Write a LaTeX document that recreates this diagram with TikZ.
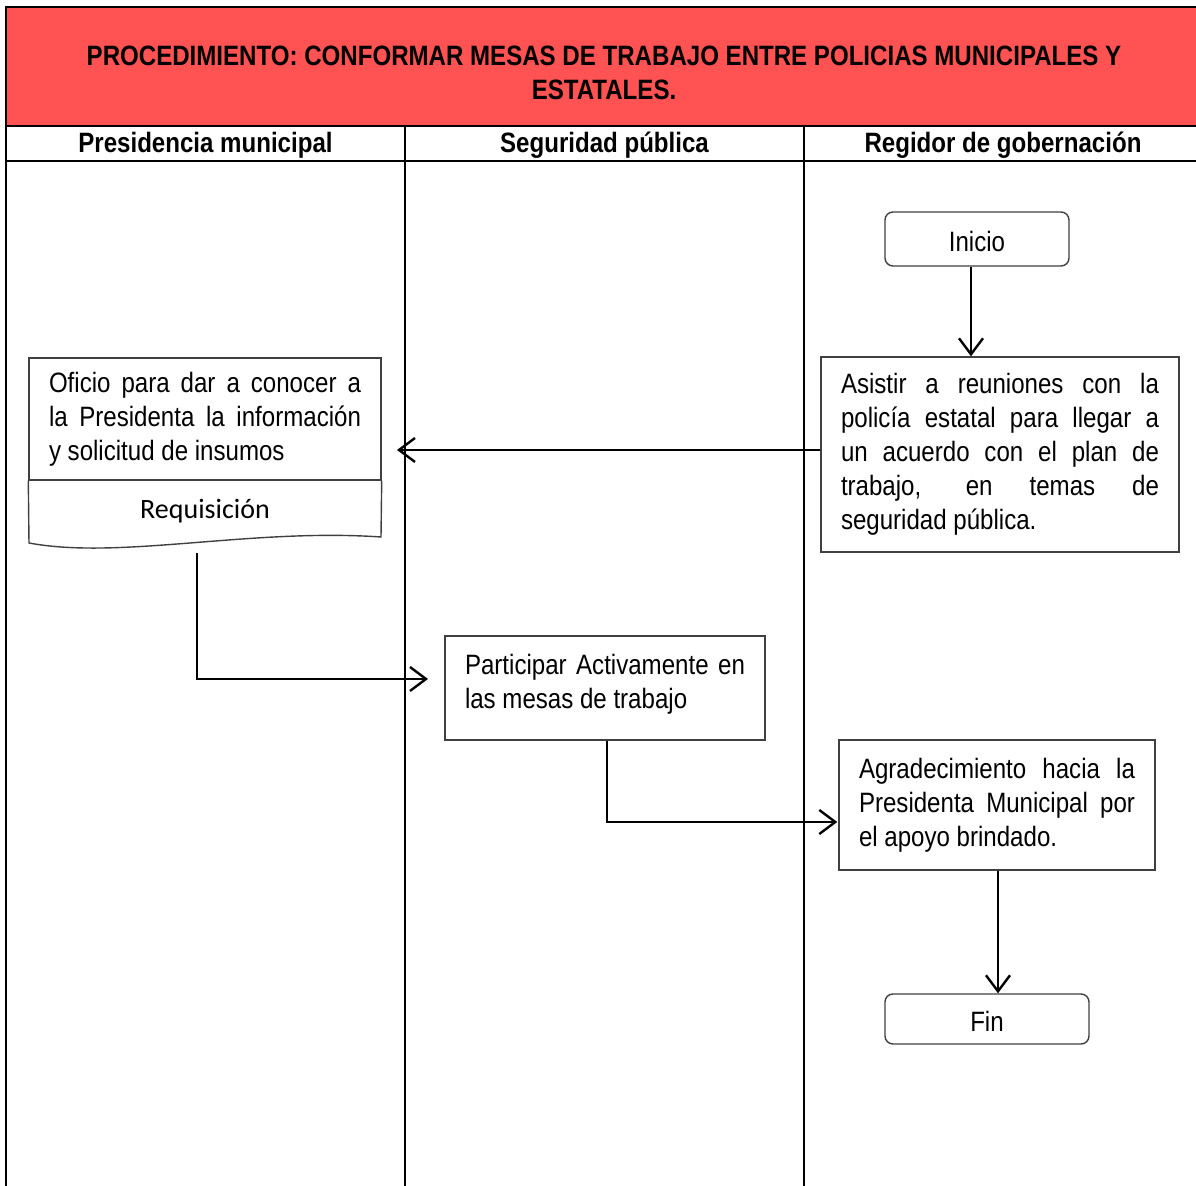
\documentclass[tikz,border=0pt]{standalone}
\usepackage{fontspec}
\setmainfont{Liberation Sans}[FakeStretch=0.86]
\newfontfamily\calibri{Carlito}
\usetikzlibrary{arrows.meta}
\definecolor{headred}{RGB}{255,82,82}
\begin{document}
\begin{tikzpicture}[x=0.5pt,y=-0.5pt,
  lane/.style={line width=1pt},
  boxtext/.style={font=\fontsize{14}{17}\selectfont},
  procbox/.style={boxtext, draw=black!75, line width=0.7pt, rectangle, inner sep=0pt, align=justify},
  termbox/.style={boxtext, draw=black!75, line width=0.7pt, rounded corners=4pt, inner sep=0pt,
    text height=12.5pt, text depth=0pt},
  flow/.style={line width=1.2pt, -{Straight Barb[length=8pt,width=12pt,line width=1.2pt]}},
  lanehead/.style={font=\bfseries\fontsize{14}{17}\selectfont},
]
\useasboundingbox (0,0) rectangle (1196,1186);

% frame, title band and swimlanes
\fill[headred] (6,7) rectangle (1196,126);
\draw[lane] (1196,7) -- (6,7) -- (6,1186);
\draw[lane] (6,126) -- (1196,126);
\draw[lane] (6,161) -- (1196,161);
\draw[lane] (405,126) -- (405,1186);
\draw[lane] (804,126) -- (804,1186);

\node[align=center, font=\bfseries\fontsize{14}{17}\selectfont] (title) at (604,73)
  {PROCEDIMIENTO: CONFORMAR MESAS DE TRABAJO ENTRE POLICIAS MUNICIPALES Y\\ESTATALES.};

\node[lanehead] (lane1) at (205.5,145.5) {Presidencia municipal};
\node[lanehead] (lane2) at (604.5,145.5) {Seguridad pública};
\node[lanehead] (lane3) at (1003,145.5) {Regidor de gobernación};

% start / end
\node[termbox, minimum width=92pt, minimum height=27pt] (inicio) at (977,239) {Inicio};
\node[termbox, minimum width=102pt, minimum height=25pt] (fin) at (987,1019) {Fin};

% activities
\node[procbox, minimum width=179pt, minimum height=97.5pt, text width=159pt] (asistir) at (1000,454.5)
  {Asistir a reuniones con la\linebreak policía estatal para llegar a\linebreak un acuerdo con el plan de\linebreak trabajo, en temas de\linebreak seguridad pública.};

\node[procbox, minimum width=176pt, minimum height=61pt, text width=156pt] (oficio) at (205,419)
  {Oficio para dar a conocer a\linebreak la Presidenta la información\linebreak y solicitud de insumos};
\draw[draw=black!75, line width=0.7pt] (oficio.south west) -- (29,543)
  .. controls (120,560) and (250,528) .. (381,537) -- (oficio.south east);
\node[font=\calibri\fontsize{14}{17}\selectfont] (req) at (205,511) {Requisición};

\node[procbox, minimum width=160pt, minimum height=52pt] (part) at (605,688)
  {\parbox[t][34pt][t]{140pt}{Participar Activamente en\linebreak las mesas de trabajo}};

\node[procbox, minimum width=158pt, minimum height=65pt, text width=138pt] (agr) at (997,805)
  {Agradecimiento hacia la\linebreak Presidenta Municipal por\linebreak el apoyo brindado.};

% connectors
\coordinate (toOficio) at (397,450);
\coordinate (docfoot) at (197,553);
\coordinate (toPart) at (428,679);
\draw[flow] ([xshift=-3pt]inicio.south) -- ([xshift=-3pt]inicio.south |- asistir.north);
\draw[flow] (asistir.west |- toOficio) -- (toOficio);
\draw[flow] (docfoot) |- (toPart);
\draw[flow] ([xshift=1pt]part.south) |- ([yshift=-8.5pt,xshift=-0.5pt]agr.west);
\draw[flow] ([xshift=0.5pt]agr.south) -- ([xshift=0.5pt]agr.south |- fin.north);
\end{tikzpicture}
\end{document}
